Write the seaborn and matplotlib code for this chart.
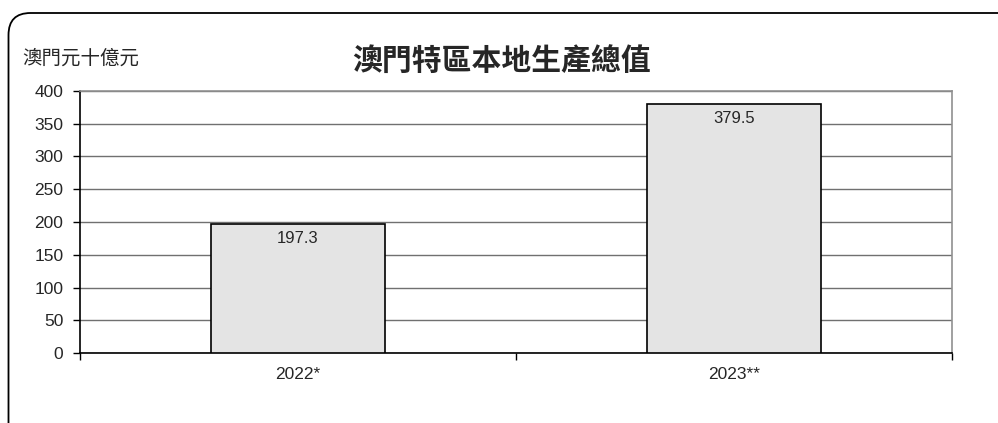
import numpy as np
import pandas as pd
import matplotlib
matplotlib.use('Agg')
import matplotlib.pyplot as plt
import seaborn as sns
from matplotlib.patches import FancyBboxPatch
from matplotlib.ticker import FixedLocator

# data
years = ['2022*', '2023**']
gdp = [197.3, 379.5]
title = '澳門特區本地生產總值'
unit = '澳門元十億元'

df = pd.DataFrame({'year': years, 'gdp': gdp})

sns.set_style('white')
plt.rcParams['font.family'] = ['Liberation Sans', 'Noto Sans CJK TC', 'DejaVu Sans']

fig = plt.figure(figsize=(9.98, 4.23), dpi=100)
ax = fig.add_axes([80 / 998, 1 - 353 / 423, 872 / 998, 262 / 423])

sns.barplot(data=df, x='year', y='gdp', color='#e4e4e4', edgecolor='black',
            linewidth=1.2, width=0.4, saturation=1, ax=ax, zorder=3)

ax.set_ylim(0, 400)
ax.set_xlim(-0.5, 1.5)
ax.set_yticks(np.arange(0, 401, 50))
ax.yaxis.grid(True, color='#707070', linewidth=1, zorder=0)
ax.set_axisbelow(True)
ax.tick_params(axis='y', direction='out', length=5, width=1, color='black',
               left=True, labelsize=12.5, pad=7)

# category boundary ticks on x, labels at centres
ax.xaxis.set_major_locator(FixedLocator([-0.5, 0.5, 1.5]))
ax.set_xticklabels([])
ax.xaxis.set_minor_locator(FixedLocator([0, 1]))
ax.set_xticklabels(years, minor=True)
ax.tick_params(axis='x', which='major', direction='out', length=5, width=1,
               color='black', bottom=True)
ax.tick_params(axis='x', which='minor', length=0, labelsize=12.5, pad=10)
ax.set_xlabel('')
ax.set_ylabel('')

for side in ['left', 'bottom']:
    ax.spines[side].set_color('black')
    ax.spines[side].set_linewidth(1.2)
for side in ['top', 'right']:
    ax.spines[side].set_visible(True)
    ax.spines[side].set_color('#909090')
    ax.spines[side].set_linewidth(1.2)

for i, v in enumerate(gdp):
    ax.annotate(f'{v:.1f}', (i, v), xytext=(0, -5), textcoords='offset points',
                ha='center', va='top', fontsize=12, zorder=5)

fig.text(502 / 998, 1 - 61 / 423, title, ha='center', va='center',
         fontsize=21.5, fontweight='bold', family=['Noto Sans CJK TC', 'DejaVu Sans'])
fig.text(22 / 998, 1 - 58 / 423, unit, ha='left', va='center',
         fontsize=14, family=['Noto Sans CJK TC', 'DejaVu Sans'])

# rounded frame around the chart (partly outside the image)
frame = FancyBboxPatch((0.085, -0.5), 10.5, 4.6,
                       boxstyle='round,pad=0,rounding_size=0.22',
                       transform=fig.dpi_scale_trans, facecolor='none',
                       edgecolor='black', linewidth=1.3, clip_on=False)
fig.patches.append(frame)

fig.savefig('out.png', dpi=100)
